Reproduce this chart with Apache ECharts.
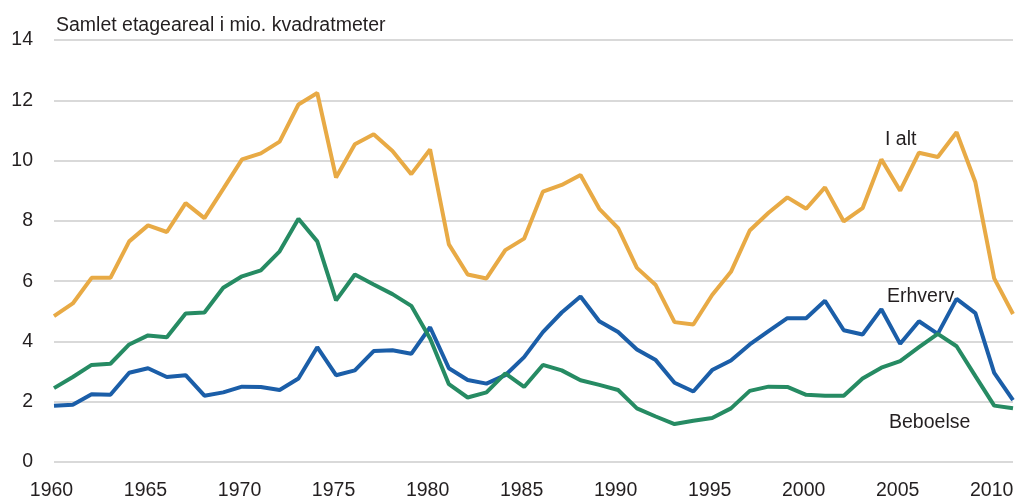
<!DOCTYPE html>
<html>
<head>
<meta charset="utf-8">
<script src="https://cdn.jsdelivr.net/npm/echarts@6/dist/echarts.min.js"></script>
<style>
html,body{margin:0;padding:0;background:#fff;}
#chart{width:1018px;height:501px;}
</style>
</head>
<body>
<div id="chart"></div>
<script>
const years = [];
for (let y = 1960; y <= 2011; y++) years.push(y);

const iAlt = [4.84, 5.26, 6.11, 6.11, 7.32, 7.85, 7.63, 8.59, 8.09, 9.06, 10.04, 10.24, 10.63, 11.86, 12.24, 9.44, 10.54, 10.87,
  10.32, 9.55, 10.37, 7.22, 6.22, 6.09, 7.03, 7.41, 8.97, 9.19, 9.52, 8.40, 7.76, 6.44, 5.87, 4.64, 4.56,
  5.54, 6.31, 7.68, 8.27, 8.78, 8.40, 9.11, 7.98, 8.42, 10.04, 9.00, 10.26, 10.12, 10.94, 9.28, 6.09, 4.91];

const beboelse = [2.45, 2.82, 3.22, 3.26, 3.90, 4.20, 4.14, 4.93, 4.96, 5.78, 6.16, 6.36, 6.99, 8.07, 7.32, 5.36, 6.22, 5.89,
  5.57, 5.18, 4.10, 2.58, 2.14, 2.31, 2.94, 2.49, 3.22, 3.04, 2.71, 2.56, 2.39, 1.78, 1.51, 1.26, 1.37,
  1.46, 1.78, 2.36, 2.50, 2.49, 2.23, 2.20, 2.20, 2.77, 3.13, 3.35, 3.81, 4.25, 3.84, 2.85, 1.87, 1.78];

const erhverv = [1.87, 1.90, 2.25, 2.23, 2.96, 3.11, 2.82, 2.88, 2.20, 2.31, 2.50, 2.49, 2.39, 2.77, 3.81, 2.88, 3.04, 3.68,
  3.71, 3.59, 4.47, 3.11, 2.72, 2.60, 2.88, 3.48, 4.31, 4.96, 5.49, 4.67, 4.31, 3.73, 3.38, 2.63, 2.34,
  3.05, 3.37, 3.90, 4.34, 4.77, 4.77, 5.35, 4.37, 4.23, 5.07, 3.92, 4.67, 4.25, 5.41, 4.94, 2.96, 2.05];

const seriesNames = ['Erhverv', 'Beboelse', 'I alt'];
const titleText = 'Samlet etageareal i mio. kvadratmeter';

const FONT = "'Liberation Sans', Arial, sans-serif";
const FS = 19.5;
const TXT = '#231f20';

const pairs = arr => years.map((y, i) => [y, arr[i]]);

const chart = echarts.init(document.getElementById('chart'), null, {renderer: 'canvas'});
chart.setOption({
  animation: false,
  backgroundColor: '#fff',
  grid: {left: 54, right: 5, top: 40, bottom: 36, containLabel: false},
  xAxis: {
    type: 'value', min: 1960, max: 2011, interval: 5,
    axisLine: {show: false}, axisTick: {show: false}, splitLine: {show: false},
    axisLabel: {color: TXT, fontFamily: FONT, fontSize: FS, margin: 19, padding: [0, 5, 0, 0],
      formatter: v => String(v)}
  },
  yAxis: {
    type: 'value', min: 0, max: 14, interval: 2,
    axisLine: {show: false}, axisTick: {show: false},
    splitLine: {lineStyle: {color: '#d9d9d9', width: 2}},
    axisLabel: {color: TXT, fontFamily: FONT, fontSize: FS, margin: 21}
  },
  graphic: [
    {type: 'text', left: 56, top: 16, style: {text: titleText, fill: TXT, font: FS + 'px ' + FONT}},
    {type: 'text', left: 885, top: 130, style: {text: seriesNames[2], fill: TXT, font: FS + 'px ' + FONT}},
    {type: 'text', left: 887, top: 287, style: {text: seriesNames[0], fill: TXT, font: FS + 'px ' + FONT}},
    {type: 'text', left: 889, top: 413, style: {text: seriesNames[1], fill: TXT, font: FS + 'px ' + FONT}}
  ],
  series: [
    {name: seriesNames[0], type: 'line', data: pairs(erhverv), showSymbol: false, symbol: 'none',
      lineStyle: {color: '#1b5ea8', width: 4}, z: 2},
    {name: seriesNames[1], type: 'line', data: pairs(beboelse), showSymbol: false, symbol: 'none',
      lineStyle: {color: '#268b63', width: 4}, z: 3},
    {name: seriesNames[2], type: 'line', data: pairs(iAlt), showSymbol: false, symbol: 'none',
      lineStyle: {color: '#e8aa45', width: 4}, z: 4}
  ]
});
</script>
</body>
</html>
